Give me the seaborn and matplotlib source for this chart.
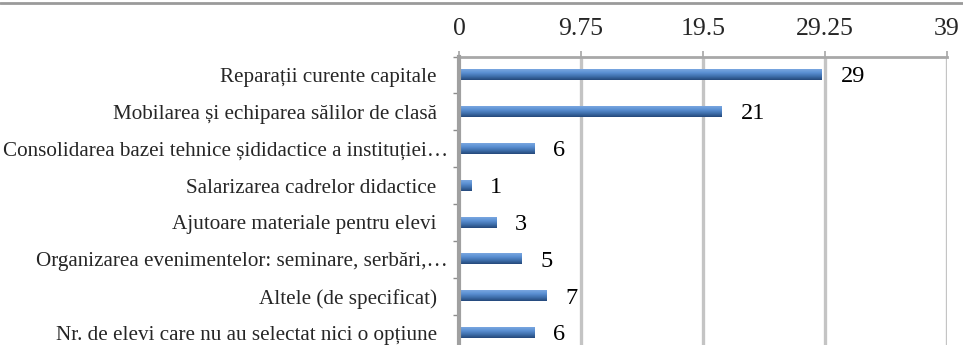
import numpy as np
import pandas as pd
import matplotlib
matplotlib.use("Agg")
import matplotlib.pyplot as plt
from matplotlib.lines import Line2D
from matplotlib.ticker import FixedLocator
from matplotlib.transforms import ScaledTranslation
import seaborn as sns

categories = [
    "Reparații curente capitale",
    "Mobilarea și echiparea sălilor de clasă",
    "Consolidarea bazei tehnice șididactice a instituției…",
    "Salarizarea cadrelor didactice",
    "Ajutoare materiale pentru elevi",
    "Organizarea evenimentelor: seminare, serbări,…",
    "Altele (de specificat)",
    "Nr. de elevi care nu au selectat nici o opțiune",
]
values = [29, 21, 6, 1, 3, 5, 7, 6]
x_ticks = [0, 9.75, 19.5, 29.25, 39]
x_tick_labels = ["0", "9.75", "19.5", "29.25", "39"]

df = pd.DataFrame({"option": categories, "count": values})

sns.set_theme(style="white")
plt.rcParams["font.family"] = ["Liberation Serif", "DejaVu Serif"]

fig = plt.figure(figsize=(9.63, 3.45), dpi=100)
ax = fig.add_axes([0.4766, -0.0188, 0.9834 - 0.4766, 0.8359 + 0.0188])

sns.barplot(data=df, y="option", x="count", orient="h", ax=ax,
            color="#4f81bd", width=0.28, saturation=1, edgecolor="none")

# gradient shading on each bar
grad = np.linspace(0, 1, 64).reshape(-1, 1)
cmap = matplotlib.colors.LinearSegmentedColormap.from_list(
    "barshade", ["#7aa7e0", "#5a8fd2", "#3f6fab", "#24487a"])
for p in ax.patches:
    x0, y0 = p.get_x(), p.get_y()
    w, h = p.get_width(), p.get_height()
    ax.imshow(grad, extent=(x0, x0 + w, y0 + h, y0), aspect="auto",
              cmap=cmap, zorder=3, interpolation="bilinear")
    p.set_visible(False)

ax.set_xlim(0, 39)
ax.set_ylim(len(categories) - 0.5, -0.5)

# value labels
for i, v in enumerate(values):
    ax.text(v + 1.5, i + 0.05, str(v), va="center", ha="left",
            fontsize=17.5, color="black", zorder=4)

# x axis on top
ax.xaxis.set_ticks_position("top")
ax.xaxis.set_label_position("top")
ax.set_xticks(x_ticks)
ax.set_xticklabels(x_tick_labels, fontsize=18.5)
ax.tick_params(axis="x", which="major", direction="out", length=4,
               width=1.2, color="#a6a6a6", pad=8, top=True, bottom=False)

ax.set_xlabel("")
ax.set_ylabel("")
ax.tick_params(axis="y", which="major", length=0, pad=16, labelsize=15.2)
ax.yaxis.set_minor_locator(FixedLocator(np.arange(-0.5, len(categories), 1.0)))
ax.tick_params(axis="y", which="minor", direction="out", length=4,
               width=1.0, color="#8c8c8c", left=True)

# truncated labels let their ellipsis run a little closer to the axis
shift = ScaledTranslation(11 / 100, 0, fig.dpi_scale_trans)
for lbl in ax.get_yticklabels():
    if lbl.get_text().endswith("…"):
        lbl.set_transform(lbl.get_transform() + shift)

ax.grid(False)
for xv in x_ticks[1:]:
    ax.axvline(xv, color="#c4c4c4", lw=2.4, zorder=1)

for side in ["bottom", "right"]:
    ax.spines[side].set_visible(False)
ax.spines["top"].set_color("#a8a8a8")
ax.spines["top"].set_linewidth(2.0)
ax.spines["left"].set_color("#a0a0a0")
ax.spines["left"].set_linewidth(3.0)
ax.spines["left"].set_zorder(5)

# frame line across the top of the figure
fig.add_artist(Line2D([0, 1], [1 - 2.5 / 345, 1 - 2.5 / 345],
                      transform=fig.transFigure, color="#9a9a9a", lw=2.0))

fig.savefig("out.png", dpi=100)
